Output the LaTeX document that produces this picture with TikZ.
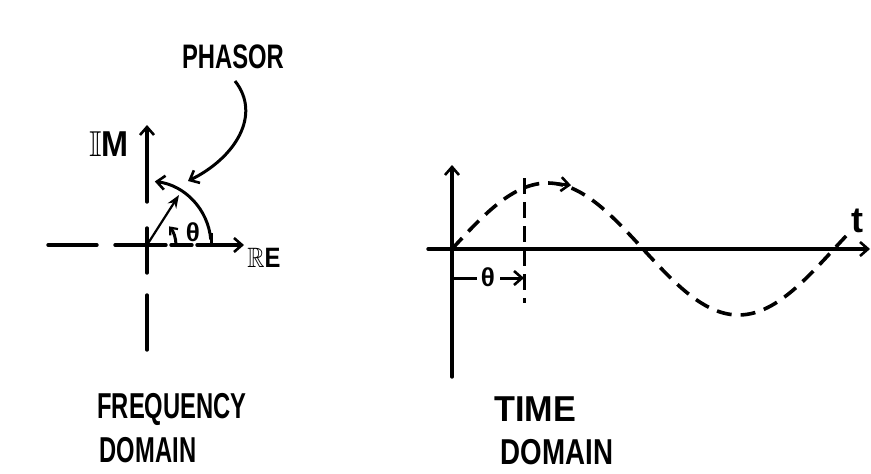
\documentclass[tikz,border=0pt]{standalone}
\usepackage{fontspec}
\usepackage{amssymb}
\setmainfont{Liberation Sans}
\usetikzlibrary{arrows.meta,calc}
\begin{document}
\begin{tikzpicture}[x=1pt,y=-1pt,
  axis/.style={line width=3.4pt,line cap=round},
  dsh/.style={line width=3.6pt,dash pattern=on 15pt off 9pt},
  barb/.style={-{Straight Barb[length=8pt,width=14pt,line width=2.6pt]}},
  lbl/.style={inner sep=0pt,font=\fontsize{36}{36}\selectfont\bfseries}]
\useasboundingbox (0,0) rectangle (871,474);
% ---------- frequency domain ----------
\coordinate (O) at (147,245);
\coordinate (hl1) at (48,245);  \coordinate (hl2) at (97,245);
\coordinate (hl3) at (115,245); \coordinate (hl4) at (166,245);
\coordinate (hl5) at (171,245); \coordinate (hl6) at (192,245);
\coordinate (hl7) at (197,245); \coordinate (hre) at (244,245);
\draw[axis] (hl1) -- (hl2);
\draw[axis] (hl3) -- (hl4);
\draw[axis] (hl5) -- (hl6);
\draw[axis,barb] (hl7) -- (hre);
\coordinate (v1) at (147,202); \coordinate (vim) at (147,125);
\coordinate (v2) at (147,228); \coordinate (v3) at (147,273);
\coordinate (v4) at (147,295); \coordinate (v5) at (147,350);
\draw[axis,barb] (v1) -- (vim);
\draw[axis] (v2) -- (v3);
\draw[axis] (v4) -- (v5);
\node[lbl,font=\fontsize{36}{36}\selectfont\bfseries] (im) at (109,144) {\scalebox{0.9}[1]{$\mathbb{I}$M}};
\node[lbl,font=\fontsize{28}{28}\selectfont\bfseries] (re) at (264,258) {\scalebox{0.85}[1]{$\mathbb{R}$E}};
% phasor
\coordinate (pt) at (179,195);
\draw[line width=2.2pt,-{Stealth[length=13pt,width=10pt]}] (O) -- (pt);
\draw[line width=3pt,barb] ($(O)+(-5:64)$) arc[start angle=-5,end angle=-83,radius=64];
\coordinate (tk1) at (211,233); \coordinate (tk2) at (211,245);
\draw[line width=3pt] (tk1) -- (tk2);
% angle arrow
\draw[line width=3pt,-{Straight Barb[length=6pt,width=10pt,line width=2.2pt]}] ($(O)+(0:29)$) arc[start angle=0,end angle=-40,radius=29];
\node[inner sep=0pt,font=\fontsize{26}{26}\selectfont\bfseries] (th1) at (193,232) {θ};
% PHASOR label and pointer
\node[lbl,font=\fontsize{34}{34}\selectfont\bfseries] (phasor) at (233,57) {\scalebox{0.7}[1]{PHASOR}};
\coordinate (pa) at (235,81);
\coordinate (pb) at (188,181);
\draw[line width=3pt,barb] (pa) .. controls (262,115) and (235,158) .. (pb);
\node[lbl] (fr) at (172,409) {\scalebox{0.66}[1]{FREQUENCY}};
\node[lbl] (fd) at (148,450) {\scalebox{0.66}[1]{DOMAIN}};
% ---------- time domain ----------
\coordinate (T) at (452,249);
\coordinate (tvb) at (452,377); \coordinate (tvt) at (452,165);
\coordinate (thl) at (428,249); \coordinate (thr) at (870,249);
\draw[axis,barb] (tvb) -- (tvt);
\draw[axis,barb] (thl) -- (thr);
\node[inner sep=0pt,font=\fontsize{36}{36}\selectfont\bfseries] (t) at (857,221) {t};
\draw[dsh] plot[domain=0:396,samples=120] ({452+\x},{249-66*sin(0.9424*\x)});
\draw[line width=3pt,barb] (556,183.6) -- (571,185.2);
\coordinate (dv1) at (524,178); \coordinate (dv2) at (524,303);
\draw[line width=3pt,dash pattern=on 16pt off 8pt] (dv1) -- (dv2);
\coordinate (a1) at (454,278); \coordinate (a2) at (477,278);
\coordinate (a3) at (500,278); \coordinate (a4) at (524,278);
\draw[line width=3pt] (a1) -- (a2);
\node[inner sep=0pt,font=\fontsize{26}{26}\selectfont\bfseries] (th2) at (488,277) {θ};
\draw[line width=3pt,barb] (a3) -- (a4);
\node[lbl] (ti) at (535,409) {\scalebox{0.95}[1]{TIME}};
\node[lbl] (td) at (557,452) {\scalebox{0.77}[1]{DOMAIN}};
\end{tikzpicture}
\end{document}
